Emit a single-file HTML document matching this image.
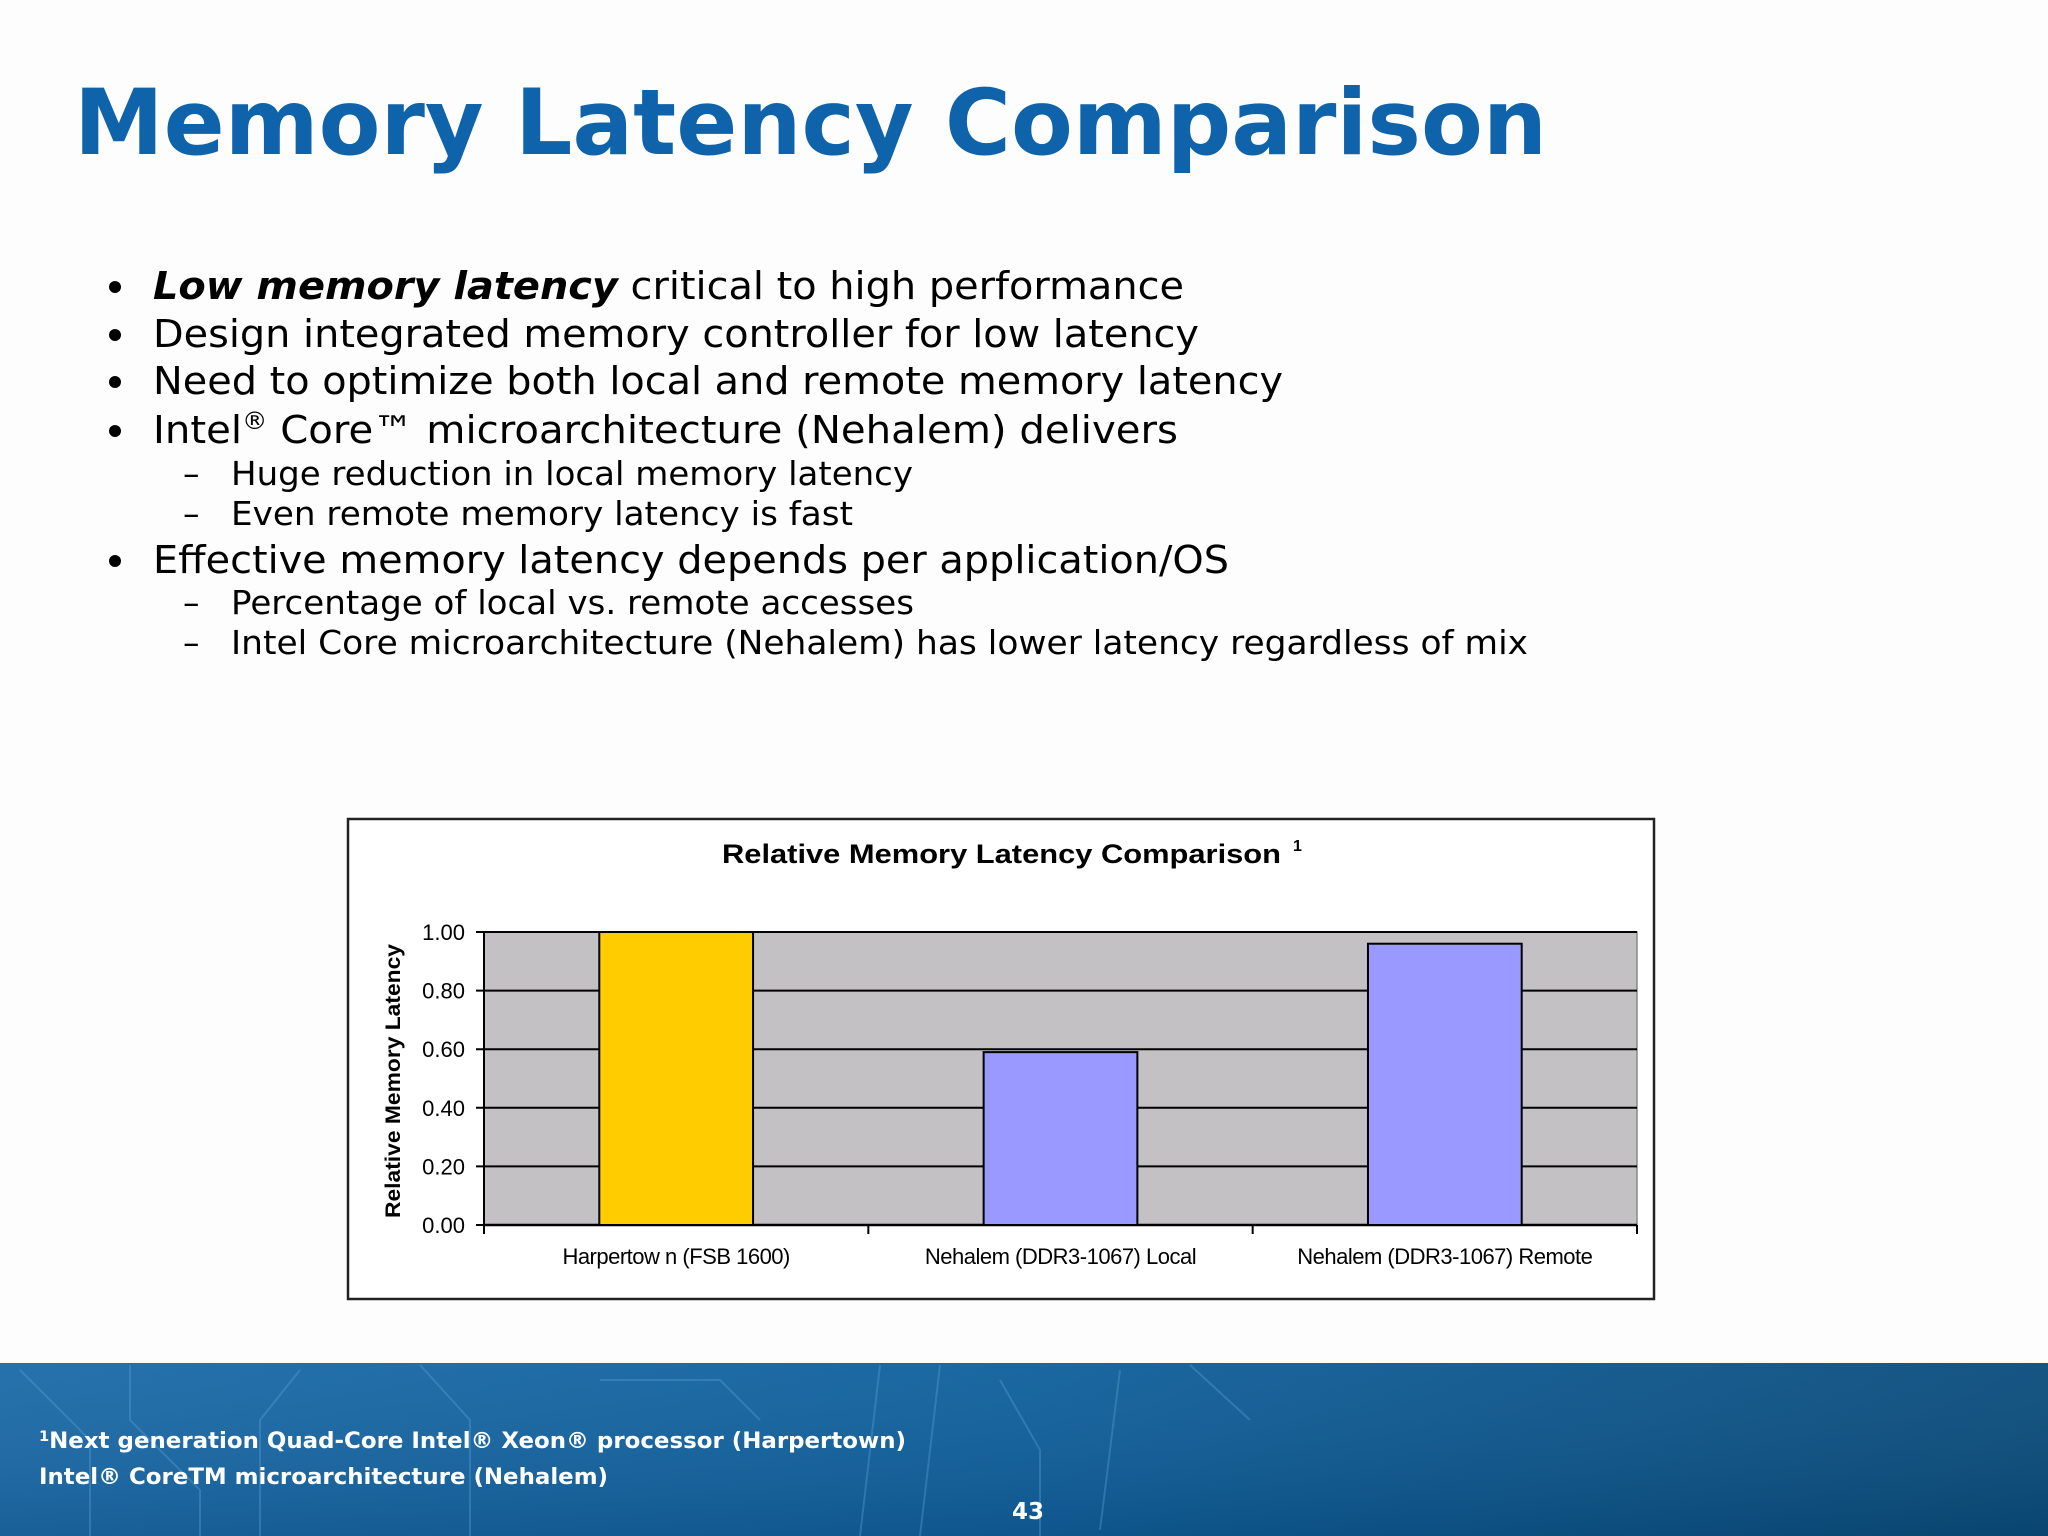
<!DOCTYPE html>
<html><head><meta charset="utf-8"><style>
html,body{margin:0;padding:0;background:#fff;}
svg{display:block;}
</style></head><body>
<svg id="root" width="2048" height="1536" viewBox="0 0 2048 1536" xmlns="http://www.w3.org/2000/svg">
<defs>
<linearGradient id="footg" x1="0" y1="0" x2="1" y2="0">
<stop offset="0" stop-color="#1b6aa8"/><stop offset="0.5" stop-color="#0f5f9c"/><stop offset="1" stop-color="#0a4c7c"/>
</linearGradient>
<linearGradient id="footv" x1="0" y1="0" x2="0" y2="1">
<stop offset="0" stop-color="#ffffff" stop-opacity="0.05"/><stop offset="1" stop-color="#000" stop-opacity="0.1"/>
</linearGradient>
</defs>
<rect width="2048" height="1536" fill="#fdfdfe"/>
<text x="74" y="154" font-family="DejaVu Sans, Liberation Sans, sans-serif" font-weight="bold" font-size="91" fill="#0e63ab" textLength="1473" lengthAdjust="spacingAndGlyphs">Memory Latency Comparison</text>

<g font-family="DejaVu Sans, Liberation Sans, sans-serif" fill="#000">
<circle cx="115" cy="287" r="6"/><circle cx="115" cy="335" r="6"/><circle cx="115" cy="382" r="6"/><circle cx="115" cy="431" r="6"/><circle cx="115" cy="561" r="6"/>
<text x="153" y="299" font-size="38" textLength="1031" lengthAdjust="spacingAndGlyphs"><tspan font-weight="bold" font-style="italic">Low memory latency</tspan> critical to high performance</text>
<text x="153" y="347" font-size="38" textLength="1046" lengthAdjust="spacingAndGlyphs">Design integrated memory controller for low latency</text>
<text x="153" y="394" font-size="38" textLength="1130" lengthAdjust="spacingAndGlyphs">Need to optimize both local and remote memory latency</text>
<text x="153" y="443" font-size="38" textLength="1025" lengthAdjust="spacingAndGlyphs">Intel<tspan font-size="24" dy="-14">®</tspan><tspan dy="14"> Core™ microarchitecture (Nehalem) delivers</tspan></text>
<text x="183" y="485" font-size="33">–</text>
<text x="231" y="485" font-size="33" textLength="682" lengthAdjust="spacingAndGlyphs">Huge reduction in local memory latency</text>
<text x="183" y="525" font-size="33">–</text>
<text x="231" y="525" font-size="33" textLength="622" lengthAdjust="spacingAndGlyphs">Even remote memory latency is fast</text>
<text x="153" y="573" font-size="38" textLength="1076" lengthAdjust="spacingAndGlyphs">Effective memory latency depends per application/OS</text>
<text x="183" y="614" font-size="33">–</text>
<text x="231" y="614" font-size="33" textLength="683" lengthAdjust="spacingAndGlyphs">Percentage of local vs. remote accesses</text>
<text x="183" y="654" font-size="33">–</text>
<text x="231" y="654" font-size="33" textLength="1297" lengthAdjust="spacingAndGlyphs">Intel Core microarchitecture (Nehalem) has lower latency regardless of mix</text>
</g>

<g id="chart">
<rect x="348" y="819" width="1306" height="480" fill="#fff" stroke="#222" stroke-width="2.5"/>
<text x="722" y="863" font-family="Liberation Sans, sans-serif" font-weight="bold" font-size="27" fill="#000" textLength="559" lengthAdjust="spacingAndGlyphs">Relative Memory Latency Comparison</text>
<text x="1293" y="851" font-family="Liberation Sans, sans-serif" font-weight="bold" font-size="16">1</text>
<text transform="translate(400,1081) rotate(-90)" text-anchor="middle" font-family="Liberation Sans, sans-serif" font-weight="bold" font-size="21" textLength="274" lengthAdjust="spacingAndGlyphs">Relative Memory Latency</text>
<g id="plot"></g>
</g>

<g>
<rect x="0" y="1363" width="2048" height="173" fill="url(#footg)"/>
<rect x="0" y="1363" width="2048" height="173" fill="url(#footv)"/>
<g stroke="#5fa6d8" stroke-opacity="0.35" fill="none" stroke-width="2">
<path d="M20 1370 L90 1440 L90 1536"/><path d="M130 1365 L130 1420 L200 1490 L200 1536"/>
<path d="M300 1370 L260 1420 L260 1536"/><path d="M420 1365 L470 1420 L470 1536"/>
<path d="M600 1380 L720 1380 L760 1420"/><path d="M880 1365 L860 1536"/><path d="M940 1365 L920 1536"/>
<path d="M1000 1380 L1040 1450 L1040 1536"/><path d="M1120 1370 L1100 1530"/><path d="M1190 1365 L1250 1420"/>
</g>
<text x="39" y="1448" font-family="DejaVu Sans, Liberation Sans, sans-serif" font-weight="bold" font-size="22" fill="#fff" textLength="867" lengthAdjust="spacingAndGlyphs"><tspan font-size="14" dy="-7">1</tspan><tspan dy="7">Next generation Quad-Core Intel® Xeon® processor (Harpertown)</tspan></text>
<text x="39" y="1484" font-family="DejaVu Sans, Liberation Sans, sans-serif" font-weight="bold" font-size="22" fill="#fff" textLength="569" lengthAdjust="spacingAndGlyphs">Intel® CoreTM microarchitecture (Nehalem)</text>
<text x="1028" y="1519" text-anchor="middle" font-family="DejaVu Sans, Liberation Sans, sans-serif" font-weight="bold" font-size="23" fill="#fff">43</text>
</g>
</svg>
<script>
const categories = ["Harpertow n (FSB 1600)", "Nehalem (DDR3-1067) Local", "Nehalem (DDR3-1067) Remote"];
const values = [1.00, 0.59, 0.96];
const barColors = ["#ffcc00", "#9999ff", "#9999ff"];
const yTicks = [0, 0.2, 0.4, 0.6, 0.8, 1.0];
const yTickLabels = ["0.00", "0.20", "0.40", "0.60", "0.80", "1.00"];

const NS = "http://www.w3.org/2000/svg";
const plot = document.getElementById("plot");
const L = 484, R = 1637, T = 932, B = 1225;
const yMax = 1.0;
const y = v => B - (v / yMax) * (B - T);
const bandW = (R - L) / categories.length;
const xc = i => L + bandW * (i + 0.5);
function mk(tag, attrs) { const e = document.createElementNS(NS, tag); for (const k in attrs) e.setAttribute(k, attrs[k]); plot.appendChild(e); return e; }

const bg = mk("rect", {x: L, y: T, width: R - L, height: B - T, fill: "#c3c1c4", stroke: "#888", "stroke-width": 1.5});



yTicks.forEach((t, i) => {
  const g = mk("line", {x1: L - 8, x2: R, y1: y(t), y2: y(t), stroke: "#000", "stroke-width": 2});
  
  
  const lb = mk("text", {x: 465, y: y(t) + 8, "text-anchor": "end", "font-family": "Liberation Sans, sans-serif", "font-size": 22, fill: "#000"});
  lb.textContent = yTickLabels[i];
  
  
});

const yAxis = mk("line", {x1: L, x2: L, y1: T, y2: B, stroke: "#000", "stroke-width": 2});


const xAxis = mk("line", {x1: L, x2: R, y1: B, y2: B, stroke: "#000", "stroke-width": 2.5});


for (let i = 0; i <= categories.length; i++) {
  const tk = mk("line", {x1: L + bandW * i, x2: L + bandW * i, y1: B, y2: B + 9, stroke: "#000", "stroke-width": 2});
  
  
}

const barW = bandW * 0.4;
values.forEach((v, i) => {
  const b = mk("rect", {x: xc(i) - barW / 2, y: y(v), width: barW, height: B - y(v), fill: barColors[i], stroke: "#000", "stroke-width": 2});
  
  
  const lb = mk("text", {x: xc(i), y: 1264, "text-anchor": "middle", "font-family": "Liberation Sans, sans-serif", "font-size": 22, fill: "#000", "letter-spacing": "-0.5"});
  lb.textContent = categories[i];
  
  
});
</script>
</body></html>
